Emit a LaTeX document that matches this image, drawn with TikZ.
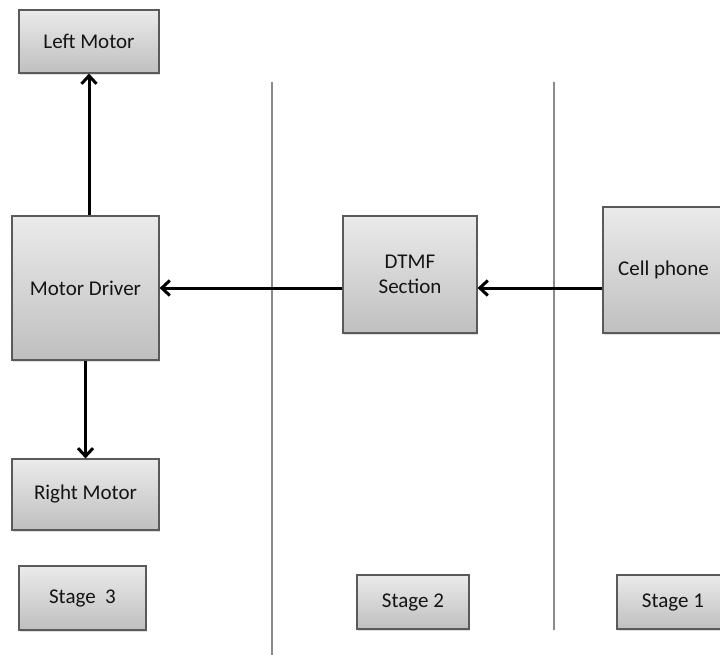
\documentclass[tikz,border=0pt]{standalone}
\usepackage{fontspec}
\setmainfont{Carlito}
\usetikzlibrary{arrows.meta,shadows}
\definecolor{boxline}{HTML}{5A5A5A}
\definecolor{sepline}{HTML}{8A8A8A}
\tikzset{
  blk/.style={draw=boxline, line width=1.2pt, top color=black!8, bottom color=black!25,
    drop shadow={shadow xshift=1.2pt, shadow yshift=-1.8pt, opacity=0.25},
    inner sep=0pt, align=center, font=\fontsize{21}{25}\selectfont, text=black!92},
  conn/.style={line width=3pt, -{Straight Barb[length=8pt,width=15pt,line width=3pt]}},
  sep/.style={draw=sepline, line width=1.2pt}
}
\begin{document}
\begin{tikzpicture}[x=1pt,y=-1pt]
\useasboundingbox (0,0) rectangle (720,655);
\clip (0,0) rectangle (720,655);
\coordinate (s1t) at (272,82);
\coordinate (s1b) at (272,655);
\coordinate (s2t) at (554,82);
\coordinate (s2b) at (554,630);
\draw[sep] (s1t) -- (s1b);
\draw[sep] (s2t) -- (s2b);

\node[blk, minimum width=140pt, minimum height=63pt] (LM) at (89,41.5) {Left Motor};
\node[blk, minimum width=147pt, minimum height=144pt] (MD) at (85.5,288) {Motor Driver};
\node[blk, minimum width=147pt, minimum height=71pt] (RM) at (85.5,494.5) {Right Motor};
\node[blk, minimum width=127pt, minimum height=64pt] (S3) at (82.5,598) {Stage\ \ 3};
\node[blk, minimum width=134pt, minimum height=117pt] (DT) at (410,274.5) {DTMF\\Section};
\node[blk, minimum width=121pt, minimum height=126pt] (CP) at (663.5,270) {Cell phone};
\node[blk, minimum width=112pt, minimum height=54pt] (S2) at (413,602) {Stage 2};
\node[blk, minimum width=112pt, minimum height=54pt] (S1) at (673,602) {Stage 1};

\draw[conn] (MD.north -| LM.south) -- (LM.south);
\draw[conn] (MD.south) -- (RM.north);
\draw[conn] (DT.west |- MD.east) -- (MD.east);
\draw[conn] (CP.west |- MD.east) -- (DT.east |- MD.east);
\end{tikzpicture}
\end{document}
